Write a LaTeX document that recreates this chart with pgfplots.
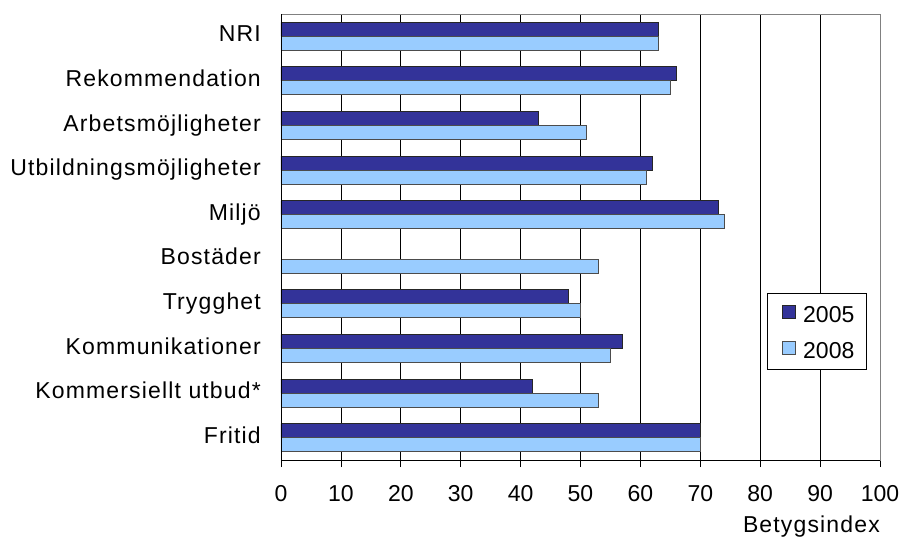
\documentclass[border=0pt]{standalone}
\usepackage{fontspec}
\setmainfont{Liberation Sans}
\newfontfamily\spaced{Liberation Sans}[LetterSpace=5]
\usepackage{pgfplots}
\pgfplotsset{compat=1.18}

\definecolor{dark05}{HTML}{333399}
\definecolor{light08}{HTML}{99CCFF}

% categories bottom-up: Fritid = 0 ... NRI = 9
\begin{document}
\begin{tikzpicture}
\useasboundingbox (0,0) rectangle (905pt,538pt);
\begin{axis}[
    at={(281pt,78pt)}, anchor=south west,
    scale only axis,
    width=599pt, height=446pt,
    xbar,
    bar width=14pt,
    xmin=0, xmax=100,
    ymin=-0.5, ymax=9.5,
    xtick={0,10,...,100},
    ytick={0,...,9},
    yticklabels={Fritid, Kommersiellt utbud*, Kommunikationer, Trygghet,
        Bostäder, Miljö, Utbildningsmöjligheter, Arbetsmöjligheter,
        Rekommendation, NRI},
    xtick pos=left,
    tick align=outside,
    major tick length=7pt,
    ytick style={draw=none},
    xtick style={black, line width=0.8pt},
    xmajorgrids,
    major grid style={black, line width=0.8pt},
    axis line style={black!50, line width=0.8pt},
    /pgf/number format/assume math mode=true,
    typeset ticklabels with strut=false,
    xticklabel style={font=\fontsize{23}{27}\selectfont, anchor=north,
        inner sep=0pt, yshift=-15pt},
    yticklabel style={font=\spaced\fontsize{23}{27}\selectfont,
        anchor=base east, inner sep=0pt, xshift=-13pt, yshift=-5.7pt},
    xlabel={\spaced Betygsindex},
    xlabel style={font=\fontsize{23}{27}\selectfont, at={(axis description cs:1,0)},
        anchor=base east, inner sep=0pt, yshift=-72pt},
    legend style={at={(axis description cs:0.811,0.2018)}, anchor=south west,
        draw=black, line width=0.8pt, fill=white,
        font=\fontsize{23}{27}\selectfont,
        inner xsep=12pt, inner ysep=11.25pt,
        nodes={inner sep=0pt, text height=16.5pt, text depth=0pt},
        column sep=0pt, row sep=18.5pt},
    legend cell align=left,
    legend image code/.code={
        \path[draw=none, fill=none] (0pt,0pt) -- (24pt,0pt);
        \draw[#1, line width=0.8pt] (3pt,-4.25pt) rectangle (16pt,8.75pt);},
]
\addplot[fill=dark05, draw=black!85, line width=0.8pt, bar shift=7pt]
coordinates {
    (70,0) (42,1) (57,2) (48,3) (73,5) (62,6) (43,7) (66,8) (63,9)
};
\addplot[fill=light08, draw=black!70, line width=0.8pt, bar shift=-7pt]
coordinates {
    (70,0) (53,1) (55,2) (50,3) (53,4) (74,5) (61,6) (51,7) (65,8) (63,9)
};
\legend{2005, 2008}
\draw[black, line width=0.8pt] (axis cs:0,-0.5) -- (axis cs:100,-0.5);
\draw[black, line width=0.8pt] (axis cs:0,-0.5) -- (axis cs:0,9.5);
\end{axis}
\end{tikzpicture}
\end{document}
